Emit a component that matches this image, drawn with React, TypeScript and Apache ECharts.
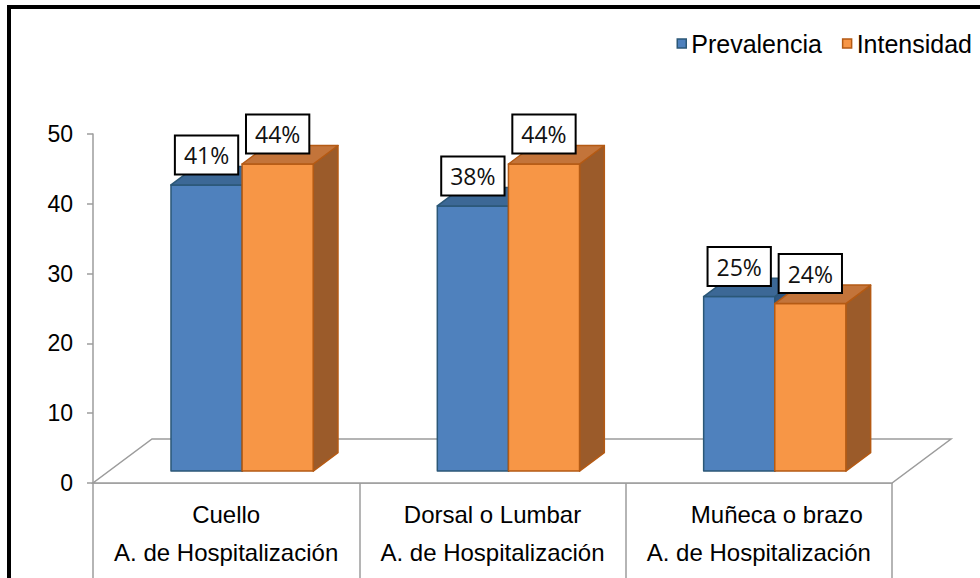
import React, { useEffect, useRef } from "react";
import * as echarts from "echarts";

// Body regions and the hospital area they belong to
const categories = ["Cuello", "Dorsal o Lumbar", "Muñeca o brazo"];
const areaGroups = ["A. de Hospitalización", "A. de Hospitalización", "A. de Hospitalización"];

// Percentages per region
const prevalencia = [41, 38, 25];
const intensidad = [44, 44, 24];

const seriesNames = ["Prevalencia", "Intensidad"];

// Value axis ticks
const yMin = 0;
const yMax = 50;
const yStep = 10;

// Oblique projection used for the floor and the bar depth
const FLOOR_DX = 59;
const FLOOR_DY = -44;
const BAR_FRONT = 0.27;
const BAR_BACK = 0.69;
const BAR_WIDTH_RATIO = 0.267;

const GRID_LINE = "#9c9c9c";
const TEXT_FONT = "'Liberation Sans', Arial, sans-serif";
const LABEL_FONT = "'Open Sans', 'Noto Sans', sans-serif";

const palettes = [
  { front: "#4F81BD", top: "#3C6896", side: "#2F5680", edge: "#2B5777" },
  { front: "#F79646", top: "#C3743A", side: "#9B5B2A", edge: "#B45A14" },
];

function barRenderer(seriesIdx: number) {
  const pal = palettes[seriesIdx];
  return (params: any, api: any) => {
    const cat = api.value(0);
    const val = api.value(1);
    const base = api.coord([cat, 0]);
    const top = api.coord([cat, val]);
    const band = api.size([1, 0])[0];
    const w = band * BAR_WIDTH_RATIO;
    const ox = FLOOR_DX * BAR_FRONT;
    const oy = FLOOR_DY * BAR_FRONT;
    const bx = FLOOR_DX * (BAR_BACK - BAR_FRONT);
    const by = FLOOR_DY * (BAR_BACK - BAR_FRONT);
    const x0 = base[0] + ox + (seriesIdx === 0 ? -w : 0);
    const x1 = x0 + w;
    const yb = base[1] + oy;
    const yt = top[1] + oy;
    const edge = { stroke: pal.edge, lineWidth: 1.5, lineJoin: "round" };
    return {
      type: "group",
      children: [
        {
          type: "polygon",
          shape: { points: [[x1, yt], [x1 + bx, yt + by], [x1 + bx, yb + by], [x1, yb]] },
          style: { fill: pal.side, ...edge },
        },
        {
          type: "rect",
          shape: { x: x0, y: yt, width: w, height: yb - yt },
          style: { fill: pal.front, ...edge },
        },
        {
          type: "polygon",
          shape: { points: [[x0, yt], [x1, yt], [x1 + bx, yt + by], [x0 + bx, yt + by]] },
          style: { fill: pal.top, ...edge },
        },
        {
          type: "text",
          z2: 100,
          style: {
            text: `${val}%`,
            x: x0 + w / 2,
            y: yt - 30,
            align: "center",
            verticalAlign: "middle",
            fontSize: 23,
            fontFamily: LABEL_FONT,
            fill: "#111",
            lineHeight: 27,
            backgroundColor: "#ffffff",
            borderColor: "#000000",
            borderWidth: 2,
            padding: [5, 8, 5, 8],
          },
        },
      ],
    };
  };
}

function floorRenderer(params: any, api: any) {
  const band = api.size([1, 0])[0];
  const first = api.coord([0, 0]);
  const last = api.coord([categories.length - 1, 0]);
  const xl = first[0] - band / 2;
  const xr = last[0] + band / 2;
  const y = first[1];
  return {
    type: "polygon",
    shape: {
      points: [
        [xl, y],
        [xr, y],
        [xr + FLOOR_DX, y + FLOOR_DY],
        [xl + FLOOR_DX, y + FLOOR_DY],
      ],
    },
    style: { fill: "#ffffff", stroke: GRID_LINE, lineWidth: 1.5 },
  };
}

export default function App() {
  const ref = useRef<HTMLDivElement>(null);

  useEffect(() => {
    if (!ref.current) return;
    const chart = echarts.init(ref.current, undefined, { renderer: "svg" });
    const values = [prevalencia, intensidad];

    chart.setOption({
      animation: false,
      backgroundColor: "#ffffff",
      textStyle: { fontFamily: TEXT_FONT },
      graphic: [
        { type: "line", shape: { x1: 7, y1: 7, x2: 990, y2: 7 }, style: { stroke: "#000", lineWidth: 4 } },
        { type: "line", shape: { x1: 9, y1: 5, x2: 9, y2: 590 }, style: { stroke: "#000", lineWidth: 4 } },
      ],
      legend: {
        right: 3,
        top: 26,
        icon: "rect",
        itemWidth: 9,
        itemHeight: 9,
        itemGap: 20,
        textStyle: { fontSize: 25, color: "#000", fontFamily: TEXT_FONT },
        data: seriesNames.map((name, i) => ({
          name,
          itemStyle: { color: palettes[i].front, borderColor: palettes[i].edge, borderWidth: 1.5 },
        })),
      },
      grid: { left: 93, right: 88, top: 134, bottom: 95 },
      xAxis: {
        type: "category",
        data: categories,
        boundaryGap: true,
        axisLine: { show: true, lineStyle: { color: GRID_LINE, width: 1.5 } },
        axisTick: { show: true, interval: 0, length: 100, lineStyle: { color: GRID_LINE, width: 1.5 } },
        axisLabel: {
          interval: 0,
          margin: 12,
          formatter: (value: string, idx: number) =>
            `{${idx === categories.length - 1 ? "c" : "a"}|${value}}\n{b|${areaGroups[idx]}}`,
          rich: {
            a: { fontSize: 24, lineHeight: 38, color: "#000", fontFamily: TEXT_FONT },
            c: { fontSize: 24, lineHeight: 38, color: "#000", fontFamily: TEXT_FONT, padding: [0, 0, 0, 36] },
            b: { fontSize: 24, lineHeight: 38, color: "#000", fontFamily: TEXT_FONT },
          },
        },
        splitLine: { show: false },
      },
      yAxis: {
        type: "value",
        min: yMin,
        max: yMax,
        interval: yStep,
        axisLine: { show: true, lineStyle: { color: GRID_LINE, width: 1.5 } },
        axisTick: { show: true, length: 6, lineStyle: { color: GRID_LINE, width: 1.5 } },
        axisLabel: { margin: 20, fontSize: 23, color: "#000", fontFamily: TEXT_FONT },
        splitLine: { show: false },
      },
      series: [
        {
          type: "custom",
          name: "floor",
          z: 1,
          clip: false,
          silent: true,
          renderItem: floorRenderer,
          data: [[0, 0]],
        },
        ...seriesNames.map((name, s) => ({
          type: "custom",
          name,
          z: 2 + s,
          clip: false,
          itemStyle: { color: palettes[s].front, borderColor: palettes[s].edge, borderWidth: 1.5 },
          renderItem: barRenderer(s),
          encode: { x: 0, y: 1 },
          data: values[s].map((v, i) => [i, v]),
        })),
      ],
    });

    return () => chart.dispose();
  }, []);

  return (
    <div
      ref={ref}
      style={{ position: "fixed", left: 0, top: 0, width: 980, height: 578, background: "#fff" }}
    />
  );
}
